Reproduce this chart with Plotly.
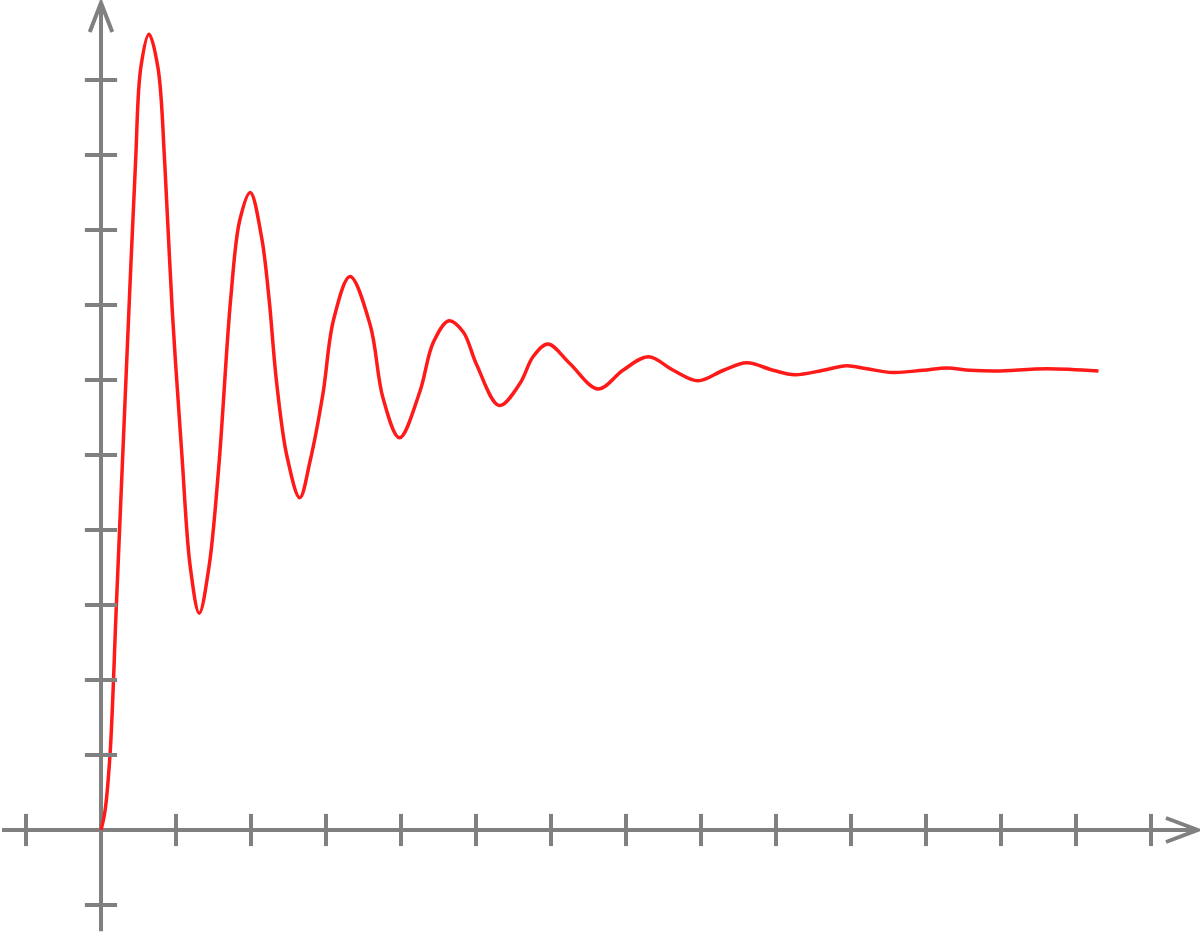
import plotly.graph_objects as go

# damped step response
t = [0.00, 0.05, 0.12, 0.205, 0.29, 0.375, 0.46, 0.53, 0.64,
     0.76, 0.85, 0.95, 1.08, 1.19, 1.31,
     1.44, 1.57, 1.73, 1.85, 1.99,
     2.14, 2.24, 2.34, 2.48, 2.65,
     2.79, 2.96, 3.10, 3.32,
     3.59, 3.76, 3.98,
     4.25, 4.43, 4.64,
     4.83, 5.01, 5.31,
     5.59, 5.76, 5.96, 6.25, 6.63, 6.96, 7.30, 7.63, 7.96,
     8.30, 8.61, 8.96, 9.25, 9.63, 9.94, 10.21, 10.56, 10.96, 11.28, 11.59, 11.94, 12.61, 13.30]
response = [0.00, 0.23, 1.00, 3.00, 5.00, 7.00, 8.89, 10.16, 10.61,
            10.16, 8.89, 6.93, 4.98, 3.51, 2.89,
            3.51, 4.84, 7.09, 8.13, 8.50,
            7.91, 7.09, 5.98, 4.98, 4.43,
            4.93, 5.82, 6.80, 7.38,
            6.73, 5.76, 5.23,
            5.84, 6.50, 6.79,
            6.64, 6.20, 5.66,
            5.96, 6.31, 6.48, 6.22, 5.88, 6.13, 6.31, 6.13, 5.99,
            6.13, 6.23, 6.13, 6.07, 6.13, 6.19, 6.15, 6.10, 6.13, 6.16, 6.13, 6.12, 6.15, 6.12]

x_ticks = [-1, 1, 2, 3, 4, 5, 6, 7, 8, 9, 10, 11, 12, 13, 14]
y_ticks = [-1, 1, 2, 3, 4, 5, 6, 7, 8, 9, 10]

GRAY = "#808080"

fig = go.Figure()

fig.add_trace(go.Scatter(
    x=t, y=response, mode="lines",
    line=dict(color="#ff1a1a", width=3.5, shape="spline", smoothing=1.0),
    hoverinfo="skip"
))

# tick marks crossing the axes
fig.add_trace(go.Scatter(
    x=x_ticks, y=[0] * len(x_ticks), mode="markers",
    marker=dict(symbol="line-ns", size=23, line=dict(color=GRAY, width=4)),
    hoverinfo="skip"
))
fig.add_trace(go.Scatter(
    x=[0] * len(y_ticks), y=y_ticks, mode="markers",
    marker=dict(symbol="line-ew", size=23, line=dict(color=GRAY, width=4)),
    hoverinfo="skip"
))

axis_line = dict(color=GRAY, width=4)
shapes = [
    # x axis + arrowhead
    dict(type="line", x0=-1.32, y0=0, x1=14.62, y1=0, line=axis_line),
    dict(type="path", path="M 14.2,0.16 L 14.62,0 L 14.2,-0.16", line=axis_line),
    # y axis + arrowhead
    dict(type="line", x0=0, y0=-1.35, x1=0, y1=11.03, line=axis_line),
    dict(type="path", path="M -0.15,10.64 L 0,11.03 L 0.15,10.64", line=axis_line),
]
for s in shapes:
    s.update(xref="x", yref="y", layer="below")

fig.update_layout(
    width=1200, height=933,
    margin=dict(l=0, r=0, t=0, b=0),
    paper_bgcolor="white", plot_bgcolor="white",
    showlegend=False,
    shapes=shapes,
    xaxis=dict(range=[-101 / 75, 1099 / 75], visible=False, fixedrange=True),
    yaxis=dict(range=[-103 / 75, 830 / 75], visible=False, fixedrange=True),
)

fig.write_html("out.html", config={"displayModeBar": False},
               post_script="document.body.style.margin='0px';")
